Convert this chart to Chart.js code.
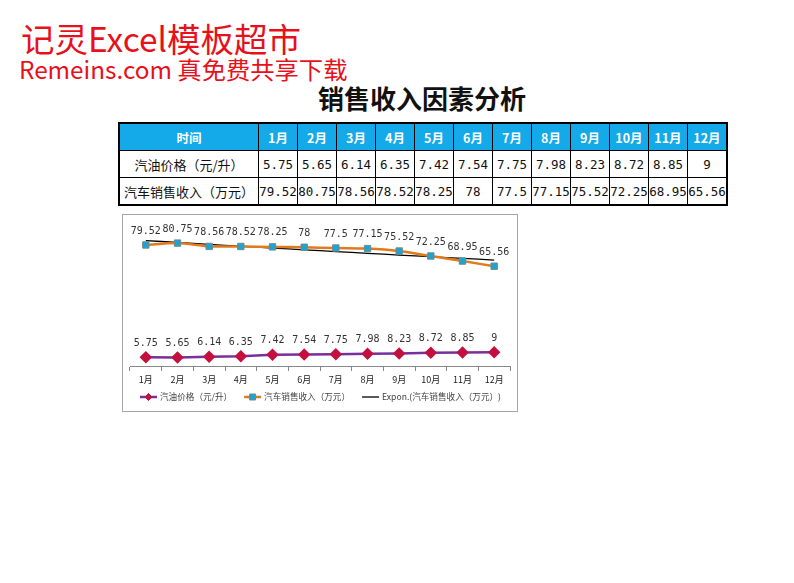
<!DOCTYPE html>
<html>
<head>
<meta charset="utf-8">
<script src="https://cdn.jsdelivr.net/npm/chart.js@4"></script>
<style>
  body { margin: 0; width: 794px; height: 583px; background: #fff; position: relative; overflow: hidden; }
  .mark { position: absolute; color: #e8101a; font-family: "Noto Sans CJK SC", "Noto Sans", sans-serif; white-space: nowrap; }
  #mark1 { left: 21px; top: 22px; font-size: 33.5px; line-height: 32px; }
  #mark2 { left: 19px; top: 57px; font-size: 24.3px; line-height: 23px; }
  #title { position: absolute; left: 0; width: 844px; top: 82px; text-align: center; font: bold 26px "Noto Sans CJK SC", sans-serif; line-height: 32px; color: #111; }
  #tbl { position: absolute; left: 118px; top: 122px; border-collapse: collapse; border: 2px solid #000; }
  #tbl td { border: 1px solid #000; height: 26px; padding: 0; text-align: center; font: 12.5px "DejaVu Sans Mono", monospace; color: #111; width: 38px; }
  #tbl td.name { width: 138px; font: 13px "Noto Sans CJK SC", sans-serif; }
  #tbl tr.head td { background: #14a9e8; color: #fff; font: bold 12.5px "Noto Sans CJK SC", sans-serif; }
  #box { position: absolute; left: 122px; top: 214px; width: 396px; height: 198px; border: 1px solid #a6a6a6; box-sizing: border-box; }
  #chart { position: absolute; left: 0; top: 0; }
</style>
</head>
<body>
<div class="mark" id="mark1">记灵Excel模板超市</div>
<div class="mark" id="mark2">Remeins.com 真免费共享下载</div>
<div id="title">销售收入因素分析</div>
<table id="tbl"></table>
<div id="box"><canvas id="chart" width="394" height="196"></canvas></div>
<script>
let months = ["1月", "2月", "3月", "4月", "5月", "6月", "7月", "8月", "9月", "10月", "11月", "12月"];
let oilPrice = [5.75, 5.65, 6.14, 6.35, 7.42, 7.54, 7.75, 7.98, 8.23, 8.72, 8.85, 9];
let carSales = [79.52, 80.75, 78.56, 78.52, 78.25, 78, 77.5, 77.15, 75.52, 72.25, 68.95, 65.56];
// exponential trendline
let salesTrend = [82.4, 81.15, 79.9, 78.7, 77.5, 76.3, 75.2, 74.0, 72.9, 71.8, 70.7, 69.6];
let oilName = "汽油价格（元/升）";
let salesName = "汽车销售收入（万元）";
let trendName = "Expon.(汽车销售收入（万元）)";

// table
let tbl = document.getElementById("tbl");
let html = '<tr class="head"><td class="name">时间</td>';
months.forEach(m => { html += `<td>${m}</td>`; });
html += "</tr><tr><td class='name'>" + oilName + "</td>";
oilPrice.forEach(v => { html += `<td>${v}</td>`; });
html += "</tr><tr><td class='name'>" + salesName + "</td>";
carSales.forEach(v => { html += `<td>${v}</td>`; });
html += "</tr>";
tbl.innerHTML = html;

// value labels above points
let valueLabels = {
  id: "valueLabels",
  afterDatasetsDraw(chart) {
    let ctx = chart.ctx;
    ctx.save();
    ctx.font = '10px "DejaVu Sans Mono", monospace';
    ctx.fillStyle = "#333";
    ctx.textAlign = "center";
    ctx.textBaseline = "middle";
    [0, 1].forEach(i => {
      let meta = chart.getDatasetMeta(i);
      meta.data.forEach((pt, j) => {
        ctx.fillText(String(chart.data.datasets[i].data[j]), pt.x, pt.y - 14);
      });
    });
    ctx.restore();
  }
};

// excel style legend: line with marker
let lineLegend = {
  id: "lineLegend",
  afterDraw(chart) {
    let ctx = chart.ctx;
    ctx.save();
    ctx.font = '8.6px "Noto Sans CJK SC", sans-serif';
    ctx.textBaseline = "middle";
    let x = 17, y = 182;
    chart.data.datasets.forEach(ds => {
      ctx.strokeStyle = ds.borderColor;
      ctx.lineWidth = ds.borderWidth;
      ctx.beginPath();
      ctx.moveTo(x, y);
      ctx.lineTo(x + 17, y);
      ctx.stroke();
      if (ds.pointRadius > 0) {
        ctx.fillStyle = ds.pointBackgroundColor;
        ctx.strokeStyle = ds.pointBorderColor;
        ctx.lineWidth = 1;
        ctx.beginPath();
        if (ds.pointStyle === "rectRot") {
          ctx.moveTo(x + 8.5, y - 3.5); ctx.lineTo(x + 12, y); ctx.lineTo(x + 8.5, y + 3.5); ctx.lineTo(x + 5, y);
          ctx.closePath();
        } else {
          ctx.rect(x + 5.5, y - 3, 6, 6);
        }
        ctx.fill();
        ctx.stroke();
      }
      ctx.fillStyle = "#444";
      ctx.fillText(ds.label, x + 20, y);
      x += 20 + ctx.measureText(ds.label).width + 12;
    });
    ctx.restore();
  }
};

let ctx = document.getElementById("chart").getContext("2d");
let chart = new Chart(ctx, {
  type: "line",
  data: {
    labels: months,
    datasets: [
      {
        label: oilName,
        data: oilPrice,
        borderColor: "#7a2d9c",
        borderWidth: 2.5,
        pointStyle: "rectRot",
        pointRadius: 4.5,
        pointBackgroundColor: "#c4103f",
        pointBorderColor: "#c4103f",
        tension: 0
      },
      {
        label: salesName,
        data: carSales,
        borderColor: "#e17a1c",
        borderWidth: 2.5,
        pointStyle: "rect",
        pointRadius: 4.5,
        pointBackgroundColor: "#1ba4d6",
        pointBorderColor: "#6f8a8a",
        pointBorderWidth: 1,
        tension: 0.3
      },
      {
        label: trendName,
        data: salesTrend,
        borderColor: "#000",
        borderWidth: 1.3,
        pointRadius: 0,
        tension: 0.4
      }
    ]
  },
  options: {
    responsive: false,
    animation: false,
    layout: { padding: { left: 6, right: 3, top: 14, bottom: 15 } },
    plugins: { legend: { display: false }, tooltip: { enabled: false } },
    scales: {
      x: {
        offset: true,
        grid: { offset: true, drawOnChartArea: false, tickLength: 5, color: "#888" },
        border: { color: "#888" },
        ticks: { color: "#222", font: { size: 9, family: "Noto Sans CJK SC" }, padding: 3, maxRotation: 0 },
        afterFit: s => { s.height = 30; }
      },
      y: { display: false, min: 0, max: 90 }
    }
  },
  plugins: [valueLabels, lineLegend]
});
</script>
</body>
</html>
